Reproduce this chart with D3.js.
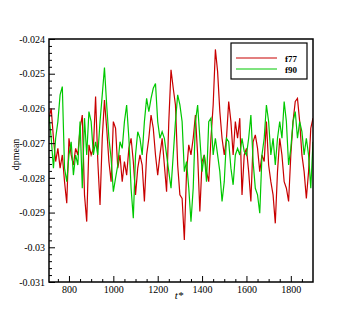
<!DOCTYPE html>
<html>
<head>
<meta charset="utf-8">
<script src="https://cdn.jsdelivr.net/npm/d3@7"></script>
<style>
  html, body { margin: 0; padding: 0; background: #fff; }
  svg text { font-family: "Liberation Serif", "DejaVu Serif", serif; }
</style>
</head>
<body>
<div id="chart"></div>
<script>
// sampling grid of the two traces (t from 710, every 10)
const tStart = 710;
const tStep = 10;

const f77 = [
  -0.02628,-0.02600,-0.02686,-0.02753,-0.02715,-0.02772,-0.02734,-0.02811,-0.02873,-0.02686,
  -0.02734,-0.02763,-0.02715,-0.02734,-0.02657,-0.02619,-0.02849,-0.02926,-0.02705,-0.02734,
  -0.02715,-0.02566,-0.02753,-0.02878,-0.02686,-0.02576,-0.02657,-0.02753,-0.02811,-0.02638,
  -0.02657,-0.02772,-0.02734,-0.02811,-0.02753,-0.02792,-0.02715,-0.02686,-0.02753,-0.02849,
  -0.02772,-0.02734,-0.02763,-0.02868,-0.02734,-0.02686,-0.02619,-0.02657,-0.02734,-0.02792,
  -0.02734,-0.02686,-0.02763,-0.02840,-0.02638,-0.02489,-0.02542,-0.02590,-0.02763,-0.02849,
  -0.02859,-0.02979,-0.02782,-0.02705,-0.02734,-0.02686,-0.02619,-0.02734,-0.02897,-0.02753,
  -0.02734,-0.02782,-0.02811,-0.02686,-0.02590,-0.02430,-0.02494,-0.02609,-0.02686,-0.02734,
  -0.02686,-0.02580,-0.02638,-0.02734,-0.02638,-0.02686,-0.02628,-0.02849,-0.02734,-0.02715,
  -0.02782,-0.02868,-0.02696,-0.02676,-0.02715,-0.02782,-0.02734,-0.02753,-0.02638,-0.02763,
  -0.02811,-0.02849,-0.02931,-0.02782,-0.02686,-0.02734,-0.02811,-0.02830,-0.02868,-0.02734,
  -0.02638,-0.02580,-0.02571,-0.02638,-0.02734,-0.02782,-0.02859,-0.02782,-0.02657,-0.02628
];

const f90 = [
  -0.02619,-0.02686,-0.02772,-0.02686,-0.02638,-0.02561,-0.02537,-0.02772,-0.02811,-0.02734,
  -0.02696,-0.02792,-0.02734,-0.02763,-0.02638,-0.02830,-0.02628,-0.02734,-0.02609,-0.02638,
  -0.02734,-0.02696,-0.02734,-0.02638,-0.02561,-0.02482,-0.02590,-0.02686,-0.02744,-0.02840,
  -0.02801,-0.02763,-0.02696,-0.02715,-0.02638,-0.02590,-0.02686,-0.02830,-0.02916,-0.02734,
  -0.02667,-0.02686,-0.02734,-0.02638,-0.02571,-0.02609,-0.02571,-0.02542,-0.02528,-0.02638,
  -0.02686,-0.02667,-0.02686,-0.02734,-0.02782,-0.02830,-0.02734,-0.02638,-0.02561,-0.02590,
  -0.02638,-0.02782,-0.02753,-0.02830,-0.02926,-0.02830,-0.02638,-0.02590,-0.02686,-0.02782,
  -0.02734,-0.02811,-0.02638,-0.02628,-0.02734,-0.02686,-0.02734,-0.02782,-0.02868,-0.02811,
  -0.02686,-0.02696,-0.02772,-0.02820,-0.02734,-0.02715,-0.02734,-0.02686,-0.02724,-0.02734,
  -0.02686,-0.02619,-0.02753,-0.02830,-0.02849,-0.02902,-0.02734,-0.02686,-0.02590,-0.02638,
  -0.02734,-0.02686,-0.02763,-0.02686,-0.02638,-0.02686,-0.02580,-0.02638,-0.02763,-0.02715,
  -0.02638,-0.02609,-0.02686,-0.02638,-0.02667,-0.02734,-0.02686,-0.02734,-0.02830,-0.02696
];

const xTicks = [800, 1000, 1200, 1400, 1600, 1800];
const yTicks = [-0.024, -0.025, -0.026, -0.027, -0.028, -0.029, -0.03, -0.031];
const seriesNames = ['f77', 'f90'];
const seriesColors = ['#c80000', '#00c800'];

const W = 356, H = 317;
const margin = { top: 39, right: 43, bottom: 35, left: 49 };
const width = W - margin.left - margin.right;
const height = H - margin.top - margin.bottom;

const svg = d3.select('#chart').append('svg')
  .attr('width', W)
  .attr('height', H);

const g = svg.append('g')
  .attr('transform', `translate(${margin.left},${margin.top})`);

const x = d3.scaleLinear().domain([710, 1900]).range([0, width]);
const y = d3.scaleLinear().domain([-0.031, -0.024]).range([height, 0]);

// clip so lines stay in the box
g.append('clipPath').attr('id', 'clip')
  .append('rect').attr('width', width).attr('height', height);

const line = d3.line()
  .x((d, i) => x(tStart + i * tStep))
  .y(d => y(d));

[f77, f90].forEach((s, k) => {
  g.append('path')
    .datum(s)
    .attr('clip-path', 'url(#clip)')
    .attr('fill', 'none')
    .attr('stroke', seriesColors[k])
    .attr('stroke-width', 1.2)
    .attr('d', line);
});

// minor ticks
const xMinor = d3.range(750, 1900, 50).filter(v => !xTicks.includes(v));
const yMinor = d3.range(-0.031, -0.0239, 0.0002).map(v => +v.toFixed(4))
  .filter(v => !yTicks.some(t => Math.abs(t - v) < 1e-7));

g.append('g')
  .attr('transform', `translate(0,${height})`)
  .call(d3.axisBottom(x).tickValues(xMinor).tickSize(-3).tickFormat(''))
  .call(a => a.select('.domain').remove());

g.append('g')
  .call(d3.axisLeft(y).tickValues(yMinor).tickSize(-3).tickFormat(''))
  .call(a => a.select('.domain').remove());

// major ticks + labels
g.append('g')
  .attr('transform', `translate(0,${height})`)
  .call(d3.axisBottom(x).tickValues(xTicks).tickSize(-6).tickPadding(5).tickFormat(d => String(d)))
  .call(a => a.select('.domain').remove())
  .call(a => a.selectAll('text').attr('dy', '0.71em').attr('y', 4).attr('font-size', 10).attr('fill', '#000'));

g.append('g')
  .call(d3.axisLeft(y).tickValues(yTicks).tickSize(-6).tickPadding(4).tickFormat(d => String(+d.toFixed(3))))
  .call(a => a.select('.domain').remove())
  .call(a => a.selectAll('text').attr('font-size', 10).attr('fill', '#000'));

// frame
g.append('rect')
  .attr('width', width)
  .attr('height', height)
  .attr('fill', 'none')
  .attr('stroke', '#000')
  .attr('stroke-width', 1.5);

// axis titles
svg.append('text')
  .attr('transform', `translate(19,${margin.top + height / 2 - 6}) rotate(-90)`)
  .attr('text-anchor', 'middle')
  .attr('font-size', 10)
  .text('dpmean');

svg.append('text')
  .attr('x', margin.left + width / 2 - 2)
  .attr('y', 299)
  .attr('text-anchor', 'middle')
  .attr('font-size', 11)
  .attr('font-style', 'italic')
  .text('t*');

// legend
const legend = svg.append('g').attr('transform', 'translate(231,43)');
legend.append('rect')
  .attr('width', 76).attr('height', 36)
  .attr('fill', '#fff').attr('stroke', '#000').attr('stroke-width', 1.2);

seriesNames.forEach((name, k) => {
  const ly = 15 + k * 11;
  legend.append('line')
    .attr('x1', 5).attr('x2', 46).attr('y1', ly).attr('y2', ly)
    .attr('stroke', seriesColors[k]).attr('stroke-width', 1.2);
  legend.append('text')
    .attr('x', 54).attr('y', ly + 3.5)
    .attr('font-size', 9).attr('font-weight', 'bold')
    .text(name);
});
</script>
</body>
</html>
